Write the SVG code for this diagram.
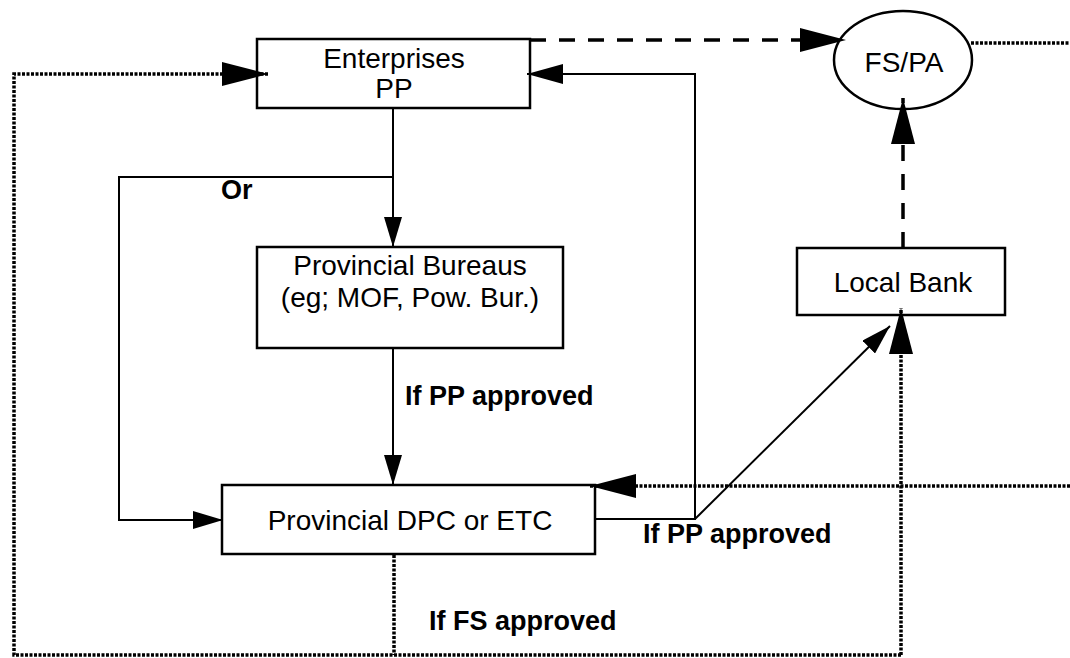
<svg xmlns="http://www.w3.org/2000/svg" width="1070" height="658" viewBox="0 0 1070 658">
<style>
.box{fill:#fff;stroke:#000;stroke-width:2.5}
.t{font-family:"Liberation Sans",Arial,sans-serif;font-size:28px;fill:#000;text-anchor:middle}
.lbl{font-family:"Liberation Sans",Arial,sans-serif;font-size:27px;font-weight:bold;fill:#000}
.solid{fill:none;stroke:#000;stroke-width:2}
.dash{fill:none;stroke:#000;stroke-width:3.5;stroke-dasharray:16 13}
.dot{fill:none;stroke:#000;stroke-width:3.5;stroke-dasharray:3 1.5}
</style>
<defs>
<marker id="big" markerUnits="userSpaceOnUse" markerWidth="46" markerHeight="24" refX="46" refY="12" orient="auto"><path d="M0,0 L46,12 L0,24 z" fill="#000"/></marker>
<marker id="mid" markerUnits="userSpaceOnUse" markerWidth="36" markerHeight="20" refX="36" refY="10" orient="auto"><path d="M0,0 L36,10 L0,20 z" fill="#000"/></marker>
<marker id="small" markerUnits="userSpaceOnUse" markerWidth="30" markerHeight="18" refX="30" refY="9" orient="auto"><path d="M0,0 L30,9 L0,18 z" fill="#000"/></marker>
</defs>
<g id="enterprises">
<rect class="box" x="257" y="39" width="273" height="69"/>
<text class="t" x="394" y="68">Enterprises</text>
<text class="t" x="394" y="98">PP</text>
</g>
<g id="fspa">
<ellipse cx="903" cy="60" rx="69" ry="49" fill="none" stroke="#000" stroke-width="2.5"/>
<text class="t" x="904" y="72">FS/PA</text>
</g>
<g id="bureaus">
<rect class="box" x="257" y="247" width="306" height="101"/>
<text class="t" x="410" y="275">Provincial Bureaus</text>
<text class="t" x="410" y="307">(eg; MOF, Pow. Bur.)</text>
</g>
<g id="localbank">
<rect class="box" x="797" y="248" width="208" height="67"/>
<text class="t" x="903" y="292">Local Bank</text>
</g>
<g id="dpc">
<rect class="box" x="222" y="485" width="373" height="69"/>
<text class="t" x="410" y="530">Provincial DPC or ETC</text>
</g>
<g id="connectors">
<path class="dot" d="M901,655 L14,655 L14,74 L268,74" marker-end="url(#big)"/>
<path class="dot" d="M901,655 L901,308" marker-end="url(#big)"/>
<path class="dot" d="M394,555 L394,655"/>
<path class="dot" d="M1070,486 L590,486" marker-end="url(#big)"/>
<path class="dot" d="M971,43 L1070,43"/>
<path class="dash" d="M530,40 L846,40" marker-end="url(#big)"/>
<path class="dash" d="M903,248 L903,98" marker-end="url(#big)"/>
<path class="solid" d="M393,108 L393,247" marker-end="url(#small)"/>
<path class="solid" d="M393,177 L119,177 L119,520 L223,520" marker-end="url(#small)"/>
<path class="solid" d="M393,348 L393,485" marker-end="url(#small)"/>
<path class="solid" d="M595,519 L695,519 L695,74 L527,74" marker-end="url(#mid)"/>
<path class="solid" d="M695,519 L890,326" marker-end="url(#small)"/>
<text class="lbl" x="221" y="199">Or</text>
<text class="lbl" x="405" y="405">If PP approved</text>
<text class="lbl" x="643" y="543">If PP approved</text>
<text class="lbl" x="429" y="630">If FS approved</text>
</g>
</svg>
